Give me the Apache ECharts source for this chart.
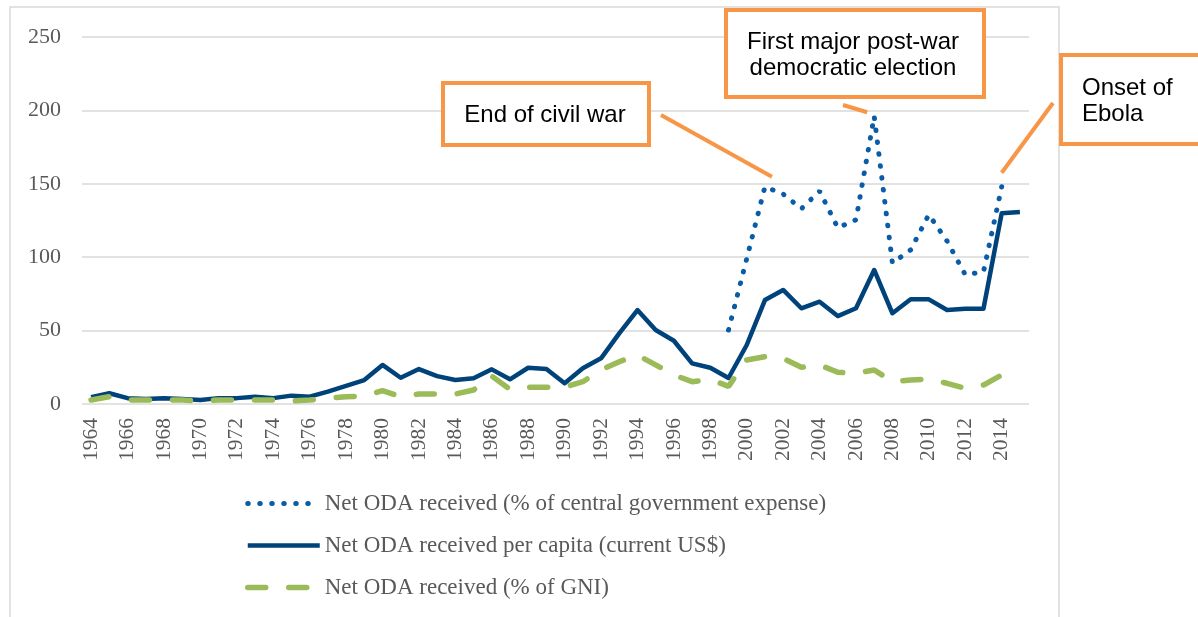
<!DOCTYPE html>
<html>
<head>
<meta charset="utf-8">
<script src="https://cdn.jsdelivr.net/npm/echarts@6/dist/echarts.min.js"></script>
<style>
html,body{margin:0;padding:0;background:#fff;}
#chart{width:1198px;height:617px;}
</style>
</head>
<body>
<div id="chart"></div>
<script>
const years = [];
for (let y = 1964; y <= 2015; y++) years.push(String(y));

const seriesNames = [
  'Net ODA received (% of central government expense)',
  'Net ODA received per capita (current US$)',
  'Net ODA received (% of GNI)'
];

// % of central government expense, available 1999-2014
const govExpenseStart = 1999;
const govExpense = [50.4, 99, 148, 143, 133, 145, 120, 125.5, 196, 96, 105, 129, 111, 88, 90, 148];

// per capita (current US$), 1964-2015
const perCapita = [4.7, 7.3, 4, 3.4, 4, 3.4, 2.7, 4, 4, 5, 4, 5.7, 5, 8.4, 12.3, 16.3, 26.6,
  17.9, 23.8, 19, 16.3, 17.5, 23.6, 16.8, 24.7, 23.8, 14.1, 24.3, 31.1, 48.1, 64, 50.4, 43.1, 27.7, 24.7, 17.7,
  40.2, 70.8, 77.7, 65.2, 69.7, 59.9, 65.2, 91.3, 61.8, 71.3, 71.3, 64, 64.9, 64.9, 129.9, 130.8];

// % of GNI, 1964-2015
const gniShare = [2.7, 5, 2.7, 2.7, 2.7, 2.7, 2, 2.7, 2.7, 2.7, 2.7, 2, 2.7, 4, 5, 5.4, 9.1,
  5, 6.8, 6.8, 6.8, 9.5, 19, 10, 11.4, 11.4, 11.4, 15.2, 23.2, 28.8, 33.4, 26.6, 19.8, 15.2, 16.8, 12,
  30, 32.2, 31.1, 25, 26.6, 21.6, 20.9, 23.2, 15.2, 16.3, 17, 14.1, 10.7, 12.9, 19.8, 21.5];

const yTicks = { min: 0, max: 250, interval: 50 };

const annotations = [
  { text: 'End of civil war', year: '2001', value: 148 },
  { text: 'First major post-war\ndemocratic election', year: '2007', value: 196 },
  { text: 'Onset of\nEbola', year: '2014', value: 148 }
];

const govData = years.map((y) => {
  const k = +y - govExpenseStart;
  return (k >= 0 && k < govExpense.length) ? govExpense[k] : null;
});

const serif = '"Liberation Serif", "DejaVu Serif", serif';
const sans = '"Liberation Sans", Arial, sans-serif';
const gray = '#595959';
const orange = '#F79646';

const chart = echarts.init(document.getElementById('chart'), null, { renderer: 'canvas' });

const option = {
  backgroundColor: '#ffffff',
  animation: false,
  grid: { left: 82, right: 169, top: 37, bottom: 213, containLabel: false },
  xAxis: {
    type: 'category',
    data: years,
    boundaryGap: true,
    axisLine: { show: false },
    axisTick: { show: false },
    axisLabel: {
      rotate: 90, interval: 1, margin: 14,
      color: gray, fontFamily: serif, fontSize: 21.5
    },
    splitLine: { show: false }
  },
  yAxis: {
    type: 'value',
    min: yTicks.min, max: yTicks.max, interval: yTicks.interval,
    axisLine: { show: false },
    axisTick: { show: false },
    axisLabel: { margin: 21, color: gray, fontFamily: serif, fontSize: 22 },
    splitLine: { lineStyle: { color: '#D9D9D9', width: 1.5 } }
  },
  legend: {
    orient: 'vertical',
    left: 245, top: 492, padding: 0,
    itemWidth: 72, itemHeight: 14, itemGap: 19,
    itemStyle: { opacity: 0 },
    lineStyle: { width: 'inherit' },
    textStyle: { color: gray, fontFamily: serif, fontSize: 23, lineHeight: 20 },
    data: seriesNames
  },
  series: [
    {
      name: seriesNames[0], type: 'line', data: govData,
      symbol: 'none', connectNulls: false,
      lineStyle: { color: '#0A5CA8', width: 5, type: [0.5, 11.5], cap: 'round' },
      itemStyle: { color: '#0A5CA8' }
    },
    {
      name: seriesNames[1], type: 'line', data: perCapita,
      symbol: 'none',
      lineStyle: { color: '#00427A', width: 4.5, join: 'round', cap: 'butt' },
      itemStyle: { color: '#00427A' }
    },
    {
      name: seriesNames[2], type: 'line', data: gniShare,
      symbol: 'none',
      lineStyle: { color: '#9BBB59', width: 5.5, type: [18, 23], cap: 'round' },
      itemStyle: { color: '#9BBB59' }
    }
  ]
};
chart.setOption(option);

// annotation boxes (layout) with leader lines pointing to data points
const boxes = [
  { x: 443, y: 83, w: 206, h: 62, from: [661, 115], offset: [7, -10], textX: 545, textY: 115, align: 'center' },
  { x: 726, y: 10, w: 258, h: 87, from: [843, 105], offset: [-7, -4], textX: 853, textY: 55, align: 'center' },
  { x: 1061, y: 55, w: 200, h: 89, from: [1053, 103], offset: [0, -14], textX: 1082, textY: 101, align: 'left' }
];
const graphics = [
  { type: 'rect', shape: { x: 10, y: 7, width: 1049, height: 640 }, style: { fill: 'none', stroke: '#D9D9D9', lineWidth: 1.5 }, z: -10, silent: true }
];
annotations.forEach((a, i) => {
  const b = boxes[i];
  const p = chart.convertToPixel({ gridIndex: 0 }, [a.year, a.value]);
  graphics.push({
    type: 'line',
    shape: { x1: b.from[0], y1: b.from[1], x2: p[0] + b.offset[0], y2: p[1] + b.offset[1] },
    style: { stroke: orange, lineWidth: 4 }, z: 100
  });
  graphics.push({
    type: 'rect', shape: { x: b.x, y: b.y, width: b.w, height: b.h },
    style: { fill: '#ffffff', stroke: orange, lineWidth: 4 }, z: 100
  });
  graphics.push({
    type: 'text', x: b.textX, y: b.textY,
    style: { text: a.text, fill: '#000', font: '24px ' + sans, align: b.align, verticalAlign: 'middle', lineHeight: 26 },
    z: 101
  });
});
chart.setOption({ graphic: graphics });
</script>
</body>
</html>
